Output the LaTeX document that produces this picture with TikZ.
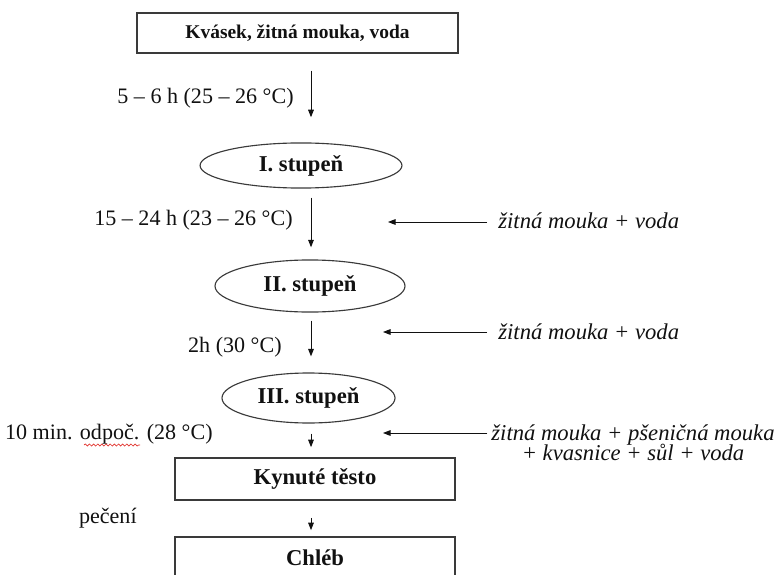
\documentclass[tikz,border=0pt,12pt]{standalone}
\usepackage{fontspec}
\setmainfont{Liberation Serif}
\usepackage{tikz}
\usetikzlibrary{arrows.meta,shapes.geometric,decorations.pathmorphing}
\definecolor{ChlebInk}{HTML}{111111}
\definecolor{ChlebLine}{HTML}{3A3A3A}
\definecolor{ChlebSpell}{HTML}{E0302A}

\begin{document}
\begin{tikzpicture}[
    x=0.53pt, y=-0.53pt,
    flow/.style={-{Triangle[length=4pt, width=3pt]}, line width=0.5pt, draw=ChlebInk},
    box/.style={draw=ChlebLine, line width=0.8pt, minimum width=148.4pt,
      minimum height=22.3pt, inner sep=0pt, font=\bfseries, text=ChlebInk},
    stage/.style={ellipse, draw=ChlebLine, line width=0.6pt, inner sep=0pt,
      font=\bfseries, text=ChlebInk},
    cond/.style={inner sep=0pt, anchor=east, text=ChlebInk,
      font=\fontsize{11.7pt}{14pt}\selectfont},
    add/.style={inner sep=0pt, font=\itshape, text=ChlebInk},
    spell/.style={draw=ChlebSpell, line width=0.35pt,
      decorate, decoration={snake, amplitude=0.55pt, segment length=2.2pt}}
  ]
    \useasboundingbox (0,0) rectangle (780,574);

    \node[box, minimum width=170pt, minimum height=21.2pt,
      font=\bfseries\fontsize{10.3pt}{12pt}\selectfont] (kvasek) at (297.5,33) {Kvásek, žitná mouka, voda};
    \node[stage, minimum width=107pt, minimum height=23.9pt] (st1) at (301,165.5) {I. stupeň};
    \node[stage, minimum width=100.7pt, minimum height=27.6pt] (st2) at (310,286) {II. stupeň};
    \node[stage, minimum width=91.7pt, minimum height=26.5pt] (st3) at (308.5,398) {III. stupeň};
    \node[box] (testo) at (315,479) {Kynuté těsto};
    \node[box] (chleb) at (315,558) {Chléb};

    \coordinate (axis) at (311,0);

    \draw[flow, shorten <=9pt, shorten >=13.3pt] (kvasek.south -| axis) -- (st1.north -| axis);
    \draw[flow, shorten <=4.8pt, shorten >=6.4pt] (st1.south -| axis) -- (st2.north -| axis);
    \draw[flow, shorten <=4.2pt, shorten >=8.5pt] (st2.south -| axis) -- (st3.north -| axis);
    \draw[flow, shorten <=5.3pt, shorten >=5.3pt] (st3.south -| axis) -- (testo.north -| axis);
    \draw[flow, shorten <=9pt, shorten >=3.2pt] (testo.south -| axis) -- (chleb.north -| axis);

    % podmínky kvašení
    \node[cond] (t1) at (294,98) {5 – 6 h (25 – 26 °C)};
    \node[cond] (t2) at (293,220) {15 – 24 h (23 – 26 °C)};
    \node[cond] (t3) at (282,347) {2h (30 °C)};
    \node[cond] (t4) at (213,434) {10 min. odpoč. (28 °C)};
    \node[cond] (t5) at (137,518) {pečení};
    \draw[spell] (84,445) -- (140,445);

    % přídavky surovin
    \node[add, anchor=west] (add1) at (498,221) {žitná mouka + voda};
    \node[add, anchor=west] (add2) at (498,332) {žitná mouka + voda};
    \node[add, align=center] (add3) at (633,443)
      {žitná mouka + pšeničná mouka\\[-4pt]+ kvasnice + sůl + voda};

    \coordinate (in1) at (388,222);
    \coordinate (in2) at (383,332);
    \coordinate (in3) at (383,433);
    \draw[flow, shorten <=5.8pt] (in1 -| add1.west) -- (in1);
    \draw[flow, shorten <=5.8pt] (in2 -| add2.west) -- (in2);
    \draw[flow, shorten <=2pt] (in3 -| add3.west) -- (in3);
  \end{tikzpicture}
\end{document}
